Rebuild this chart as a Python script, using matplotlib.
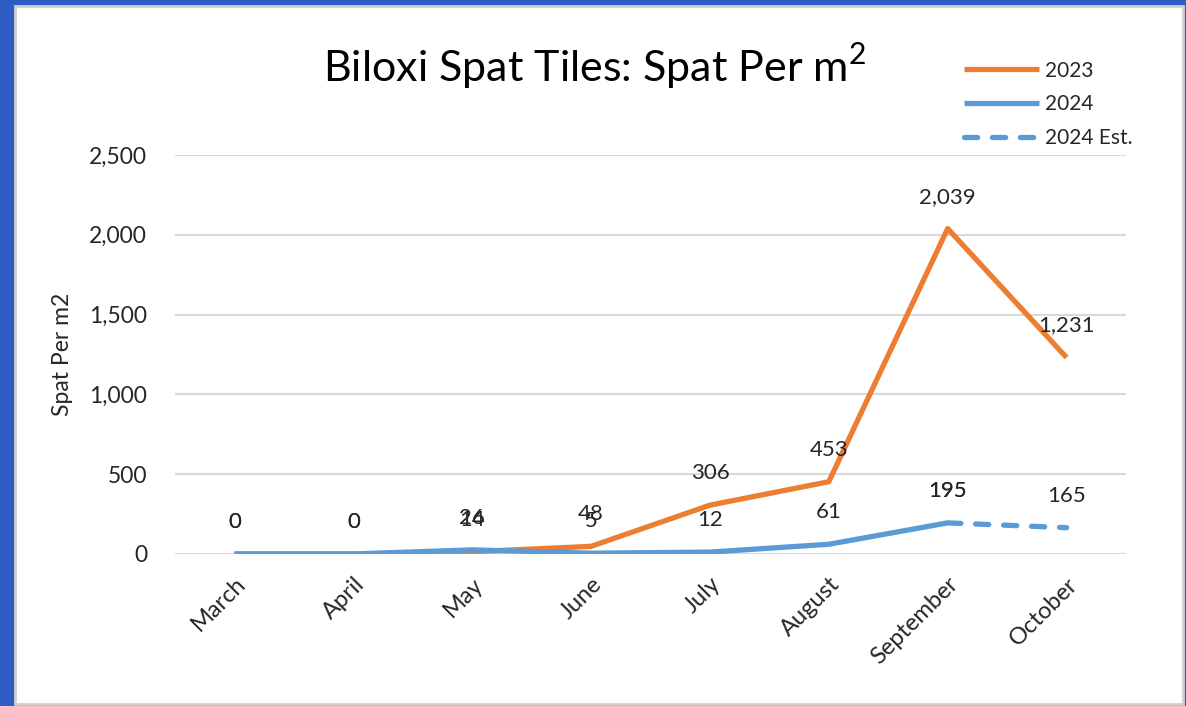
import numpy as np
import matplotlib.pyplot as plt
from matplotlib.patches import Rectangle

plt.rcParams['font.family'] = ['Lato', 'DejaVu Sans']

months = ['March', 'April', 'May', 'June', 'July', 'August', 'September', 'October']
spat_2023 = [0, 0, 14, 48, 306, 453, 2039, 1231]
spat_2024 = [0, 0, 26, 5, 12, 61, 195, np.nan]
spat_2024_est = [np.nan, np.nan, np.nan, np.nan, np.nan, np.nan, 195, 165]

orange = '#ED7D31'
blue = '#5B9BD5'
txt = '#262626'

fig = plt.figure(figsize=(11.86, 7.06), dpi=100)
fig.patch.set_facecolor('#2f5cc4')
# white slide panel
fig.patches.append(Rectangle((15/1186, 2/706), 1168/1186, 698/706, transform=fig.transFigure,
                             facecolor='white', edgecolor='#d0d0d0', linewidth=2, zorder=-10))

ax = fig.add_axes([175/1186, 1-554/706, 951/1186, 399/706])
ax.set_facecolor('none')
x = np.arange(len(months))

ax.plot(x, spat_2023, color=orange, lw=3.8, label='2023', solid_joinstyle='round', solid_capstyle='butt')
ax.plot(x, spat_2024, color=blue, lw=3.8, label='2024', solid_joinstyle='round', solid_capstyle='butt')
ax.plot(x, spat_2024_est, color=blue, lw=3.8, label='2024 Est.', linestyle=(0, (2.5, 2.8)),
        dash_capstyle='round')

for series in [spat_2023, spat_2024, spat_2024_est]:
    for xi, v in zip(x, series):
        if np.isnan(v):
            continue
        ax.annotate('{:,}'.format(int(v)), (xi, v), xytext=(0, 23), textcoords='offset points',
                    ha='center', va='center', fontsize=16, color=txt)

ax.set_xlim(-0.5, len(months) - 0.5)
ax.set_ylim(0, 2500)
ax.set_yticks([0, 500, 1000, 1500, 2000, 2500])
ax.set_yticklabels(['{:,}'.format(v) for v in [0, 500, 1000, 1500, 2000, 2500]], fontsize=16.5, color=txt)
ax.set_xticks(x)
ax.set_xticklabels(months, rotation=45, ha='right', rotation_mode='anchor', fontsize=17, color=txt)
ax.tick_params(axis='both', length=0)
ax.tick_params(axis='y', pad=20)
ax.tick_params(axis='x', pad=14)
ax.grid(axis='y', color='#d9d9d9', lw=1.5)
ax.set_axisbelow(True)
for s in ax.spines.values():
    s.set_visible(False)

ax.set_ylabel('Spat Per m2', fontsize=16.5, color=txt, labelpad=12)

fig.text(595/1186, 1-66/706, r'Biloxi Spat Tiles: Spat Per m$^{\mathregular{2}}$', fontsize=31,
         ha='center', va='center', color='black')

fig.legend(loc='upper left', bbox_to_anchor=(945/1186, 1-42/706), frameon=False, fontsize=15,
           handlelength=3.6, labelspacing=0.65, handletextpad=0.3, labelcolor=txt)

fig.savefig('out.png', dpi=100, facecolor=fig.get_facecolor())
